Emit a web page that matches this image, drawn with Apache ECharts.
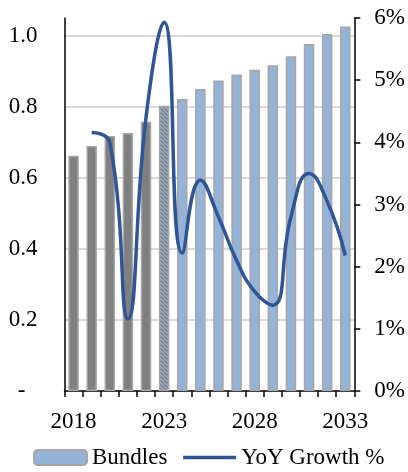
<!DOCTYPE html>
<html>
<head>
<meta charset="utf-8">
<script src="https://cdn.jsdelivr.net/npm/echarts@6/dist/echarts.min.js"></script>
<style>
  html, body { margin: 0; padding: 0; background: #fff; }
  #chart { width: 408px; height: 472px; }
</style>
</head>
<body>
<div id="chart"></div>
<script>
// data
const years = ['2018', '2019', '2020', '2021', '2022', '2023', '2024', '2025',
  '2026', '2027', '2028', '2029', '2030', '2031', '2032', '2033'];
const bundles = [0.662, 0.690, 0.718, 0.726, 0.758, 0.803, 0.822, 0.850,
  0.874, 0.891, 0.904, 0.917, 0.942, 0.977, 1.005, 1.026];
const yoyGrowth = [null, 4.16, 4.0, 1.16, 4.4, 5.93, 2.22, 3.39,
  2.8, 2.1, 1.6, 1.38, 2.8, 3.5, 3.05, 2.18];
const actualYears = ['2018', '2019', '2020', '2021', '2022'];
const partialYear = '2023';

const leftTicks = { min: 0, max: 1.05, interval: 0.2 };
const rightTicks = { min: 0, max: 6, interval: 1 };

const FONT = '"Liberation Serif", "Times New Roman", Times, serif';
const GRAY = '#808080';
const BLUE = '#95b3d7';
const EDGE = '#a6a6a6';
const LINE = '#2f5597';

// striped fill for the part-year bar
const makeHatch = () => {
  const c = document.createElement('canvas');
  c.width = 4;
  c.height = 4;
  const ctx = c.getContext('2d');
  ctx.fillStyle = BLUE;
  ctx.fillRect(0, 0, 4, 4);
  ctx.strokeStyle = GRAY;
  ctx.lineWidth = 1.6;
  for (let k = -1; k <= 1; k++) {
    ctx.beginPath();
    ctx.moveTo(k * 4, 0);
    ctx.lineTo(k * 4 + 4, 4);
    ctx.stroke();
  }
  return c;
};
const hatch = makeHatch();

const barData = bundles.map((v, i) => {
  const y = years[i];
  if (actualYears.includes(y)) return { value: v, itemStyle: { color: GRAY } };
  if (y === partialYear) return { value: v, itemStyle: { color: { image: hatch, repeat: 'repeat' } } };
  return v;
});

const chart = echarts.init(document.getElementById('chart'), null, { renderer: 'canvas' });

const option = {
  animation: false,
  textStyle: { fontFamily: FONT, color: '#000' },
  grid: { left: 64.5, right: 50, top: 18, bottom: 81, containLabel: false },
  legend: {
    left: 28,
    top: 441,
    itemWidth: 53,
    itemHeight: 15,
    itemGap: 14,
    textStyle: { fontFamily: FONT, fontSize: 23, color: '#000' },
    data: [
      { name: 'Bundles' },
      {
        name: 'YoY Growth %',
        itemStyle: { opacity: 0 },
        lineStyle: { color: LINE, width: 3.5, cap: 'butt' },
      },
    ],
  },
  xAxis: {
    type: 'category',
    data: years,
    axisLine: { lineStyle: { color: '#000', width: 1.5 } },
    axisTick: { show: true, interval: 0, length: 6, lineStyle: { color: '#000', width: 1.5 } },
    axisLabel: { interval: 4, margin: 19, fontFamily: FONT, fontSize: 23, color: '#000' },
  },
  yAxis: [
    {
      type: 'value',
      min: leftTicks.min,
      max: leftTicks.max,
      interval: leftTicks.interval,
      axisLine: { show: true, lineStyle: { color: '#000', width: 1.5 } },
      axisTick: { show: false },
      axisLabel: {
        margin: 27,
        showMaxLabel: false,
        fontFamily: FONT,
        fontSize: 23,
        color: '#000',
        formatter: (v) => (v === 0 ? '{dash|-}' : v.toFixed(1)),
        rich: { dash: { fontFamily: FONT, fontSize: 23, padding: [0, 12, 0, 0] } },
      },
      splitLine: { show: true, showMinLine: false, showMaxLine: false, lineStyle: { color: '#d9d9d9', width: 2 } },
    },
    {
      type: 'value',
      position: 'right',
      min: rightTicks.min,
      max: rightTicks.max,
      interval: rightTicks.interval,
      axisLine: { show: true, lineStyle: { color: '#000', width: 1.5 } },
      axisTick: { show: true, inside: false, length: 6, lineStyle: { color: '#000', width: 1.5 } },
      axisLabel: { margin: 20, fontFamily: FONT, fontSize: 23, color: '#000', formatter: '{value}%' },
      splitLine: { show: false },
    },
  ],
  series: [
    {
      name: 'Bundles',
      type: 'bar',
      yAxisIndex: 0,
      barWidth: 10.5,
      itemStyle: { color: BLUE, borderColor: EDGE, borderWidth: 1.5 },
      data: barData,
    },
    {
      name: 'YoY Growth %',
      type: 'line',
      yAxisIndex: 1,
      smooth: 0.5,
      symbol: 'none',
      clip: false,
      lineStyle: { color: LINE, width: 3.5 },
      itemStyle: { color: LINE },
      data: yoyGrowth,
    },
  ],
};

chart.setOption(option);
</script>
</body>
</html>
